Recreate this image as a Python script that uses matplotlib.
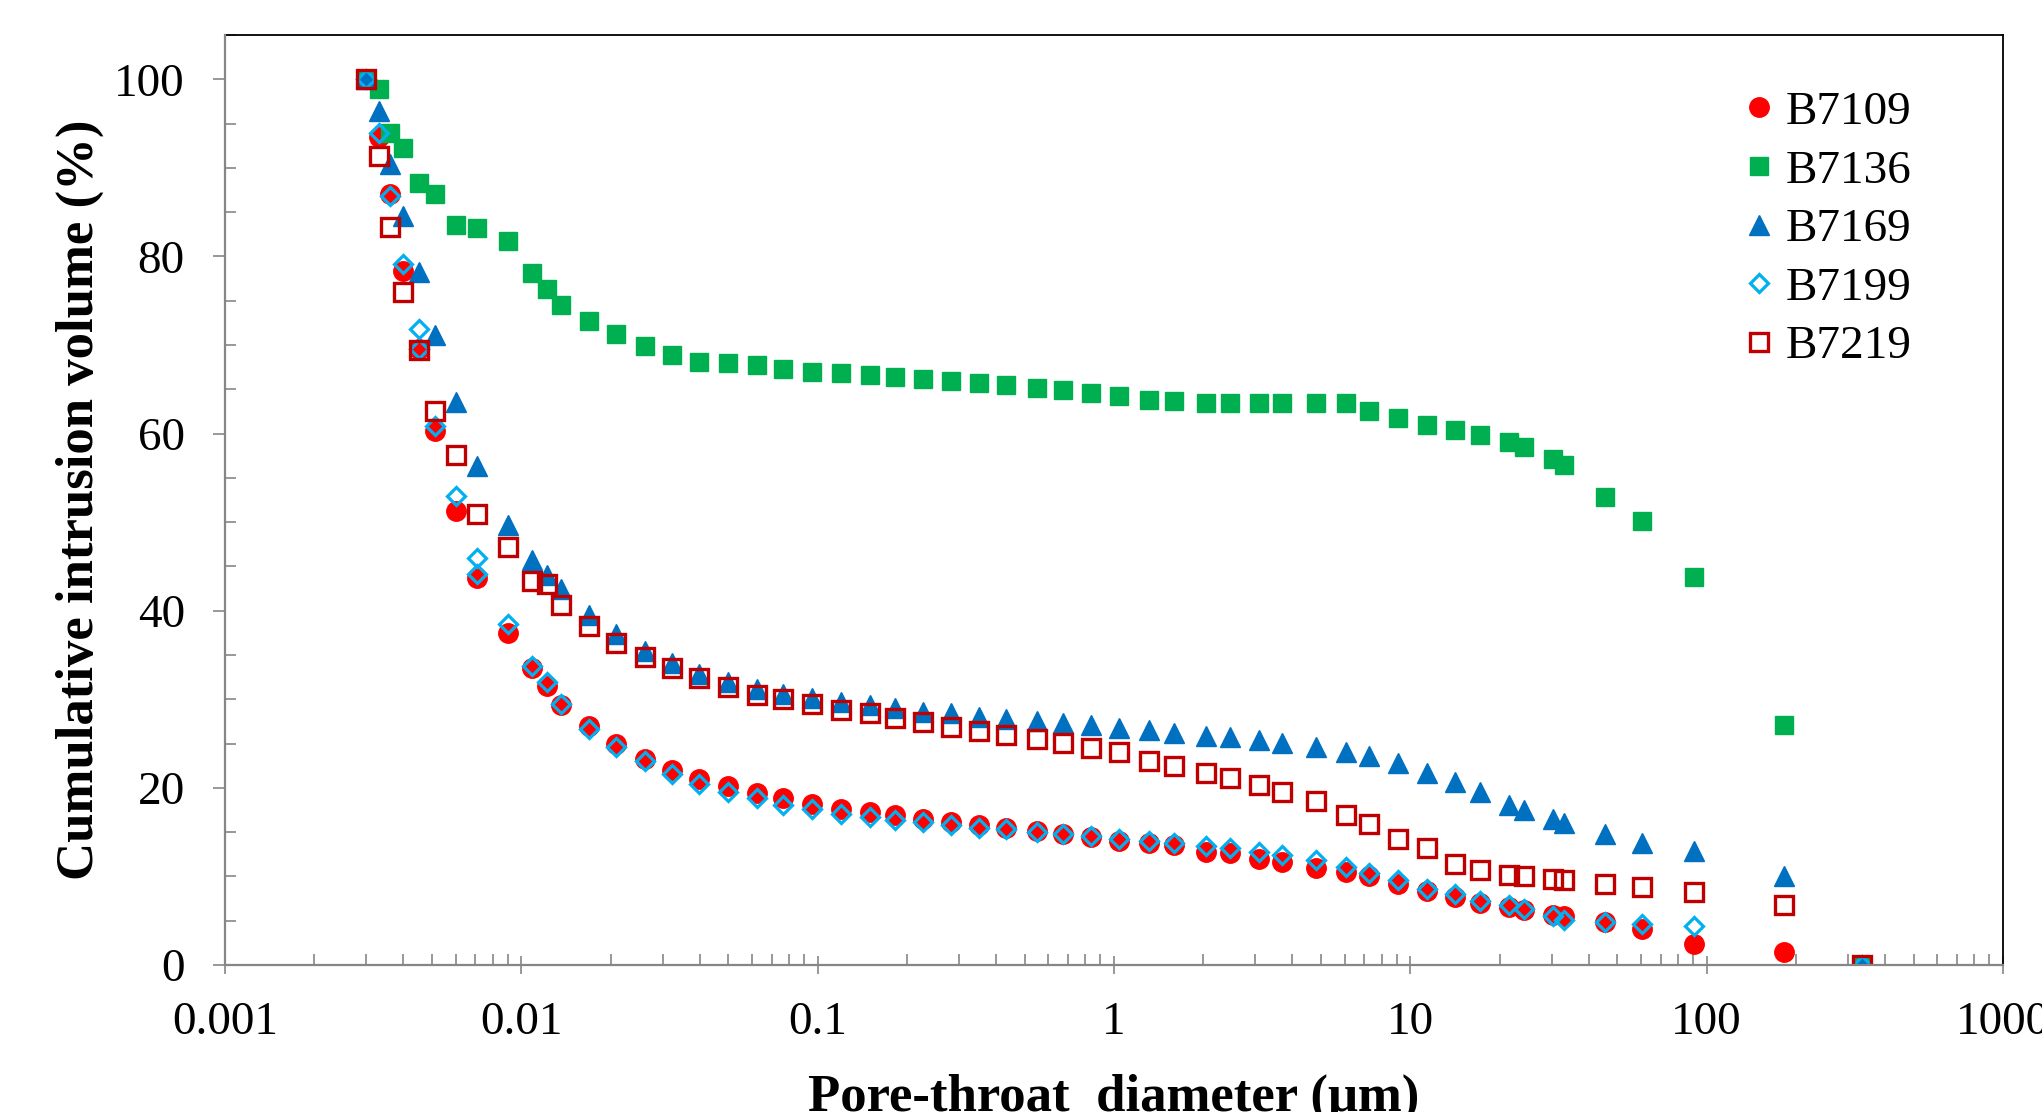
import numpy as np
import matplotlib
matplotlib.use("Agg")
import matplotlib.pyplot as plt
from matplotlib.ticker import LogLocator, MultipleLocator, FixedLocator, NullFormatter

plt.rcParams['font.family'] = ['Liberation Serif', 'DejaVu Serif']

# pore-throat diameters (um), shared by all samples
diameter = [0.003, 0.0033, 0.0036, 0.004, 0.0045, 0.0051, 0.006, 0.0071, 0.009, 0.0109,
            0.0122, 0.0136, 0.0169, 0.0209, 0.0261, 0.0323, 0.0399, 0.0499, 0.0623, 0.0763,
            0.0954, 0.120, 0.150, 0.182, 0.226, 0.282, 0.349, 0.431, 0.550, 0.674,
            0.834, 1.04, 1.31, 1.59, 2.05, 2.46, 3.08, 3.69, 4.81, 6.07,
            7.28, 9.10, 11.4, 14.1, 17.2, 21.5, 24.1, 30.4, 32.9, 45.5,
            60.5, 90.7, 182, 335]

# cumulative intrusion volume (%)
b7109 = [100, 93.5, 87.0, 78.4, 69.5, 60.3, 51.3, 43.7, 37.5, 33.5,
         31.5, 29.4, 27.0, 24.9, 23.3, 22.0, 21.0, 20.2, 19.4, 18.8,
         18.2, 17.6, 17.3, 16.9, 16.5, 16.2, 15.8, 15.5, 15.1, 14.8,
         14.4, 14.0, 13.8, 13.5, 12.8, 12.6, 12.0, 11.6, 10.9, 10.5,
         10.0, 9.2, 8.4, 7.7, 7.0, 6.5, 6.2, 5.7, 5.5, 4.8,
         4.1, 2.4, 1.5, 0]
b7136 = [100, 98.9, 93.9, 92.3, 88.3, 87.1, 83.6, 83.2, 81.8, 78.1,
         76.3, 74.5, 72.7, 71.3, 69.9, 68.9, 68.1, 68.0, 67.8, 67.3,
         67.0, 66.8, 66.6, 66.4, 66.2, 65.9, 65.7, 65.5, 65.2, 64.9,
         64.6, 64.2, 63.8, 63.7, 63.4, 63.4, 63.4, 63.4, 63.4, 63.4,
         62.6, 61.8, 61.0, 60.4, 59.8, 59.0, 58.5, 57.1, 56.4, 52.8,
         50.1, 43.8, 27.1, 0]
b7169 = [100, 96.4, 90.4, 84.6, 78.2, 71.1, 63.6, 56.3, 49.7, 45.7,
         44.0, 42.4, 39.5, 37.4, 35.5, 34.1, 32.9, 31.9, 31.2, 30.6,
         30.1, 29.7, 29.4, 29.0, 28.6, 28.4, 28.0, 27.8, 27.5, 27.3,
         27.1, 26.8, 26.5, 26.2, 25.9, 25.7, 25.4, 25.1, 24.6, 24.1,
         23.6, 22.8, 21.7, 20.7, 19.5, 18.1, 17.5, 16.5, 16.0, 14.8,
         13.8, 12.9, 10.1, 0]
b7199 = [100, 93.9, 86.8, 79.1, 71.8, 60.9, 53.0, 46.0, 38.5, 33.8,
         31.9, 29.5, 26.6, 24.6, 23.0, 21.6, 20.4, 19.5, 18.8, 18.1,
         17.6, 17.1, 16.7, 16.4, 16.1, 15.8, 15.5, 15.3, 15.0, 14.8,
         14.6, 14.2, 14.0, 13.8, 13.4, 13.2, 12.8, 12.4, 11.8, 11.1,
         10.4, 9.6, 8.6, 8.0, 7.2, 6.8, 6.3, 5.5, 5.1, 4.9,
         4.6, 4.4, np.nan, 0]
# repeated readings for B7199
b7199_extra_d = [0.0045, 0.0071]
b7199_extra_v = [69.6, 44.2]
b7219 = [100, 91.3, 83.3, 76.0, 69.4, 62.5, 57.6, 50.9, 47.2, 43.3,
         43.0, 40.7, 38.3, 36.3, 34.8, 33.5, 32.4, 31.4, 30.5, 30.0,
         29.5, 28.8, 28.4, 27.9, 27.4, 26.9, 26.4, 26.0, 25.5, 25.1,
         24.5, 24.0, 23.0, 22.5, 21.7, 21.1, 20.3, 19.5, 18.5, 16.9,
         15.9, 14.2, 13.2, 11.4, 10.7, 10.2, 10.0, 9.7, 9.6, 9.2,
         8.8, 8.2, 6.8, 0]

fig = plt.figure(figsize=(20.42, 11.12), dpi=100)
ax = fig.add_axes([0.1102, 0.1322, 0.8707, 0.8363])

ax.plot(diameter, b7109, ls='none', marker='o', ms=14, color='#FF0000', mec='#FF0000',
        label='B7109')
ax.plot(diameter, b7136, ls='none', marker='s', ms=13.5, color='#00B050', mec='#00B050',
        label='B7136')
ax.plot(diameter, b7169, ls='none', marker='^', ms=14.5, color='#0070C0', mec='#0070C0',
        label='B7169')
ax.plot(diameter + b7199_extra_d, b7199 + b7199_extra_v, ls='none', marker='D', ms=9.5,
        mfc='none', mec='#00B0F0', mew=2.3, label='B7199')
ax.plot(diameter, b7219, ls='none', marker='s', ms=12.5, mfc='none', mec='#C00000',
        mew=2.4, label='B7219')

ax.set_xscale('log')
ax.set_xlim(0.001, 1000)
ax.set_ylim(0, 105)

ax.xaxis.set_major_locator(LogLocator(base=10, numticks=10))
ax.xaxis.set_minor_locator(LogLocator(base=10, subs=np.arange(2, 10), numticks=100))
ax.xaxis.set_minor_formatter(NullFormatter())
ax.set_xticks([0.001, 0.01, 0.1, 1, 10, 100, 1000])
ax.set_xticklabels(['0.001', '0.01', '0.1', '1', '10', '100', '1000'])
ax.yaxis.set_major_locator(FixedLocator([0, 20, 40, 60, 80, 100]))
ax.yaxis.set_minor_locator(MultipleLocator(5))

grey = '#868686'
for side in ('left', 'bottom'):
    ax.spines[side].set_color(grey)
    ax.spines[side].set_linewidth(1.6)
for side in ('top', 'right'):
    ax.spines[side].set_color('black')
    ax.spines[side].set_linewidth(1.3)
ax.spines['left'].set_zorder(5)
ax.spines['bottom'].set_zorder(5)

ax.tick_params(axis='x', which='major', direction='inout', length=13, width=1.2,
               color=grey, labelsize=34, pad=20)
ax.tick_params(axis='x', which='minor', direction='in', length=8, width=1.2, color=grey)
ax.tick_params(axis='y', which='major', direction='out', length=9, width=1.2,
               color=grey, labelsize=34, pad=20)
ax.tick_params(axis='y', which='minor', direction='in', length=8, width=1.2, color=grey)

ax.set_xlabel('Pore-throat  diameter (\u03bcm)', fontsize=38, fontweight='bold')
ax.set_ylabel('Cumulative intrusion volume (%)', fontsize=38, fontweight='bold')
ax.xaxis.set_label_coords(0.5, -0.117)
ax.yaxis.set_label_coords(-0.068, 0.5)

ax.legend(loc='upper left', bbox_to_anchor=(0.855, 0.94), frameon=False,
          fontsize=34, handlelength=0.6, handletextpad=0.25, labelspacing=0.33,
          borderpad=0, borderaxespad=0)

fig.savefig('out.png', dpi=100)
